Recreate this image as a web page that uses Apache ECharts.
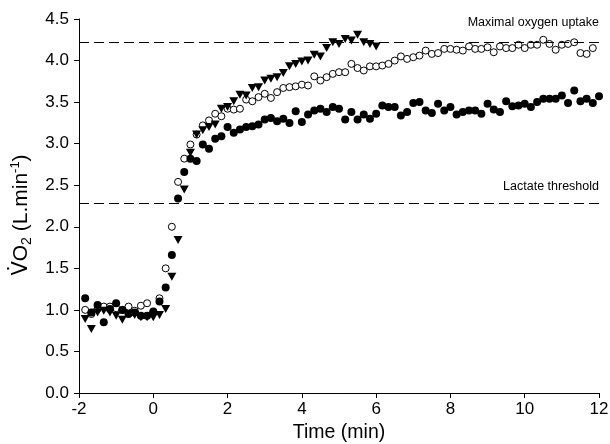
<!DOCTYPE html>
<html>
<head>
<meta charset="utf-8">
<script src="https://cdn.jsdelivr.net/npm/echarts@6/dist/echarts.min.js"></script>
<style>
  html, body { margin: 0; padding: 0; background: #fff; }
  #chart { width: 610px; height: 444px; }
</style>
</head>
<body>
<div id="chart"></div>
<script>
// Breath-by-breath VO2 averaged every 10 s, exercise onset at t = 0
const timeSec = [
  -110, -100, -90, -80, -70, -60, -50, -40, -30, -20, -10, 0,
  10, 20, 30, 40, 50, 60, 70, 80, 90, 100, 110, 120,
  130, 140, 150, 160, 170, 180, 190, 200, 210, 220, 230, 240,
  250, 260, 270, 280, 290, 300, 310, 320, 330, 340, 350, 360,
  370, 380, 390, 400, 410, 420, 430, 440, 450, 460, 470, 480,
  490, 500, 510, 520, 530, 540, 550, 560, 570, 580, 590, 600,
  610, 620, 630, 640, 650, 660, 670, 680, 690, 700, 710, 720
];

// Filled circles
const vo2Filled = [
  1.14, 0.97, 1.06, 0.85, 1.01, 1.08, 1.00, 0.95, 0.97, 0.93, 0.93, 0.98,
  1.10, 1.27, 1.66, 2.34, 2.66, 2.82, 2.79, 2.99, 2.94, 3.06, 3.09, 3.20,
  3.13, 3.17, 3.20, 3.21, 3.23, 3.29, 3.31, 3.27, 3.30, 3.25, 3.39, 3.26,
  3.35, 3.40, 3.42, 3.38, 3.44, 3.42, 3.29, 3.38, 3.29, 3.35, 3.30, 3.36,
  3.46, 3.44, 3.44, 3.34, 3.38, 3.49, 3.50, 3.40, 3.37, 3.48, 3.40, 3.44,
  3.35, 3.38, 3.40, 3.40, 3.36, 3.48, 3.41, 3.38, 3.51, 3.45, 3.46, 3.48,
  3.44, 3.50, 3.54, 3.54, 3.54, 3.58, 3.49, 3.64, 3.51, 3.54, 3.49, 3.57
];

// Open circles (ends at 11.83 min)
const vo2Open = [
  1.00, 0.95, 1.01, 1.04, 1.04, 1.02, 1.00, 1.04, 0.99, 1.05, 1.08, 0.97,
  1.14, 1.50, 2.00, 2.54, 2.82, 2.99, 3.11, 3.22, 3.28, 3.36, 3.33, 3.42,
  3.41, 3.42, 3.53, 3.51, 3.56, 3.60, 3.55, 3.62, 3.67, 3.68, 3.69, 3.71,
  3.70, 3.81, 3.76, 3.80, 3.84, 3.86, 3.86, 3.96, 3.91, 3.88, 3.93, 3.93,
  3.94, 3.96, 4.00, 4.05, 4.02, 4.04, 4.06, 4.12, 4.08, 4.09, 4.14, 4.14,
  4.13, 4.12, 4.17, 4.14, 4.14, 4.16, 4.10, 4.17, 4.15, 4.15, 4.19, 4.15,
  4.19, 4.19, 4.25, 4.20, 4.13, 4.19, 4.20, 4.22, 4.09, 4.08, 4.15
];

// Inverted triangles (ends at 6 min)
const vo2Triangle = [
  0.89, 0.77, 0.97, 0.99, 0.97, 0.93, 0.88, 0.95, 0.94, 0.91, 0.91, 0.91,
  0.94, 1.01, 1.40, 1.84, 2.45, 2.89, 3.11, 3.16, 3.20, 3.23, 3.42, 3.44,
  3.51, 3.59, 3.58, 3.67, 3.68, 3.76, 3.78, 3.80, 3.85, 3.93, 3.96, 3.99,
  4.00, 4.07, 4.05, 4.15, 4.22, 4.20, 4.26, 4.24, 4.31, 4.22, 4.20, 4.17
];

// Reference levels
const maxVO2 = 4.22;
const lactateThreshold = 2.28;

const xTicks = { min: -2, max: 12, interval: 2 };
const yTicks = { min: 0, max: 4.5, interval: 0.5 };

function pairs(values) {
  return values.map((v, i) => [timeSec[i] / 60, v]);
}

const FONT = '"Liberation Sans", Arial, sans-serif';
const DOT_FONT = '"DejaVu Sans", "Liberation Sans", sans-serif';

const chart = echarts.init(document.getElementById('chart'), null, { renderer: 'canvas' });

const axisCommon = {
  axisLine: { show: true, onZero: false, lineStyle: { color: '#000', width: 1 } },
  axisTick: { show: true, inside: false, length: 5, lineStyle: { color: '#000', width: 1 } },
  splitLine: { show: false }
};

chart.setOption({
  animation: false,
  backgroundColor: '#fff',
  grid: {
    left: 79, right: 11, top: 19, bottom: 51,
    containLabel: false,
    outerBoundsMode: 'none'
  },
  xAxis: Object.assign({}, axisCommon, {
    type: 'value',
    min: xTicks.min, max: xTicks.max, interval: xTicks.interval,
    name: 'Time (min)',
    nameLocation: 'middle',
    nameGap: 27,
    nameTextStyle: { color: '#000', fontSize: 19.5, fontFamily: FONT },
    axisLabel: { color: '#000', fontSize: 17, fontFamily: FONT, margin: 8 }
  }),
  yAxis: Object.assign({}, axisCommon, {
    type: 'value',
    min: yTicks.min, max: yTicks.max, interval: yTicks.interval,
    name: '{v|V\u0307}{n|O}{sub|2}{n| (L.min}{sup|-1}{n|)}',
    nameLocation: 'middle',
    nameRotate: 90,
    nameGap: 29,
    nameTextStyle: {
      color: '#000', fontSize: 21, fontFamily: FONT,
      padding: [0, 18, 0, 0],
      rich: {
        v: { fontSize: 21, fontFamily: DOT_FONT, color: '#000', lineHeight: 26, verticalAlign: 'middle' },
        n: { fontSize: 21, fontFamily: FONT, color: '#000', lineHeight: 26, verticalAlign: 'middle' },
        sub: { fontSize: 14, fontFamily: FONT, color: '#000', lineHeight: 13, verticalAlign: 'bottom' },
        sup: { fontSize: 13, fontFamily: FONT, color: '#000', lineHeight: 13, verticalAlign: 'top' }
      }
    },
    axisLabel: {
      color: '#000', fontSize: 17, fontFamily: FONT, margin: 10,
      formatter: v => v.toFixed(1)
    }
  }),
  series: [
    {
      name: 'open',
      type: 'scatter',
      data: pairs(vo2Open),
      symbol: 'circle',
      symbolSize: 7,
      itemStyle: { color: '#fff', borderColor: '#000', borderWidth: 1, opacity: 1 },
      z: 3
    },
    {
      name: 'triangle',
      type: 'scatter',
      data: pairs(vo2Triangle),
      symbol: 'triangle',
      symbolRotate: 180,
      symbolSize: [9, 8],
      itemStyle: { color: '#000', opacity: 1 },
      z: 4
    },
    {
      name: 'filled',
      type: 'scatter',
      data: pairs(vo2Filled),
      symbol: 'circle',
      symbolSize: 8,
      itemStyle: { color: '#000', opacity: 1 },
      z: 5,
      markLine: {
        silent: true,
        symbol: ['none', 'none'],
        lineStyle: { color: '#000', width: 1, type: [10, 5] },
        label: {
          show: true,
          position: 'insideEndTop',
          color: '#000',
          fontSize: 12.5,
          fontFamily: FONT
        },
        emphasis: { disabled: true },
        data: [
          { yAxis: maxVO2, label: { formatter: 'Maximal oxygen uptake', distance: [0, 13] } },
          { yAxis: lactateThreshold, label: { formatter: 'Lactate threshold', distance: [0, 10] } }
        ]
      }
    }
  ]
});
</script>
</body>
</html>
